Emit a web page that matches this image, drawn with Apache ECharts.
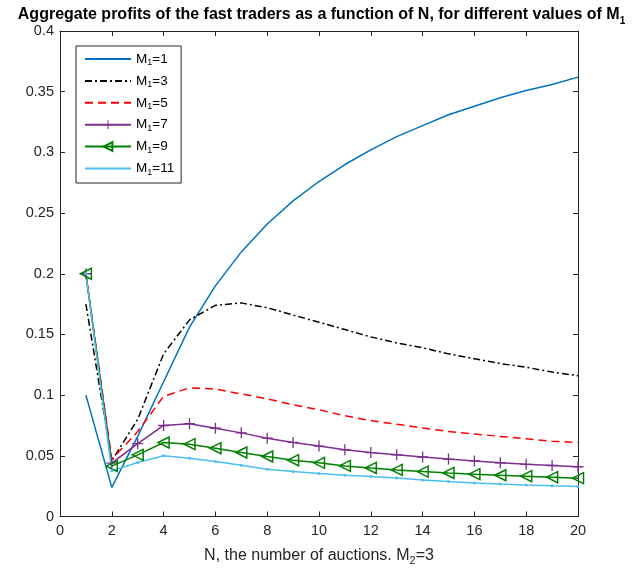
<!DOCTYPE html>
<html><head><meta charset="utf-8">
<script src="https://cdn.jsdelivr.net/npm/echarts@6/dist/echarts.min.js"></script>
<style>html,body{margin:0;padding:0;background:#fff}#c{width:643px;height:572px}</style>
</head><body><div id="c"></div>
<script>
var N = [1,2,3,4,5,6,7,8,9,10,11,12,13,14,15,16,17,18,19,20];
var m1_1  = [0.100,0.024,0.066,0.111,0.156,0.190,0.218,0.241,0.260,0.276,0.290,0.302,0.313,0.322,0.331,0.338,0.345,0.351,0.356,0.362];
var m1_3  = [0.175,0.046,0.080,0.134,0.162,0.174,0.176,0.172,0.166,0.160,0.154,0.148,0.143,0.139,0.134,0.130,0.126,0.123,0.119,0.116];
var m1_5  = [0.200,0.047,0.070,0.099,0.106,0.105,0.101,0.097,0.092,0.088,0.083,0.079,0.076,0.073,0.070,0.068,0.066,0.064,0.062,0.061];
var m1_7  = [0.200,0.044,0.060,0.075,0.0765,0.0727,0.0689,0.0645,0.061,0.058,0.055,0.0527,0.0508,0.049,0.0473,0.0458,0.0443,0.043,0.042,0.041];
var m1_9  = [0.200,0.0415,0.0508,0.061,0.0596,0.0563,0.0527,0.0494,0.0464,0.0442,0.0417,0.040,0.0384,0.037,0.0359,0.0349,0.034,0.0332,0.0324,0.0316];
var m1_11 = [0.200,0.0376,0.0445,0.050,0.048,0.0453,0.0423,0.039,0.037,0.0354,0.034,0.033,0.0318,0.030,0.0288,0.0277,0.0268,0.026,0.0253,0.0247];
var seriesNames = ['M1=1','M1=3','M1=5','M1=7','M1=9','M1=11'];

function pairs(arr){ return arr.map(function(v,i){ return [N[i], v]; }); }
var FONT = '"Liberation Sans", Arial, sans-serif';
var TXT = '#262626';
var subRich = {
  n: {fontFamily: FONT, fontSize: 13.5, color: '#000', lineHeight: 15, verticalAlign: 'middle'},
  s: {fontFamily: FONT, fontSize: 9, color: '#000', padding: [8,0,0,0], verticalAlign: 'middle'}
};
var plus = 'path://M4.4,0h1.2v4.4h4.4v1.2h-4.4v4.4h-1.2v-4.4h-4.4v-1.2h4.4z';
var triL = 'path://M0,5L10,0L10,10Z';

var chart = echarts.init(document.getElementById('c'), null, {renderer:'canvas'});
var axisCommon = {
  axisLine: {show: true, onZero: false, lineStyle: {color: TXT, width: 1}},
  axisTick: {show: true, inside: true, length: 5, lineStyle: {color: TXT}},
  splitLine: {show: false}
};
var hideSym = {opacity: 0};
chart.setOption({
  animation: false,
  backgroundColor: '#fff',
  title: {
    text: '{b|Aggregate profits of the fast traders as a function of N, for different values of M}{bs|1}',
    left: 'center', top: -1,
    textStyle: {rich: {
      b: {fontFamily: FONT, fontSize: 16, fontWeight: 'bold', color: '#000', lineHeight: 20, verticalAlign: 'middle'},
      bs: {fontFamily: FONT, fontSize: 10, fontWeight: 'bold', color: '#000', padding: [12,0,0,0], verticalAlign: 'middle'}
    }}
  },
  grid: {left: 60, right: 65, top: 31, bottom: 55.5, containLabel: false},
  legend: {
    orient: 'vertical', left: 76, top: 46,
    padding: [6, 7, 6, 8],
    itemWidth: 46, itemHeight: 11, itemGap: 6.4,
    borderColor: '#262626', borderWidth: 1, backgroundColor: '#fff',
    data: [
      {name: seriesNames[0], itemStyle: hideSym},
      {name: seriesNames[1], itemStyle: hideSym},
      {name: seriesNames[2], itemStyle: hideSym},
      {name: seriesNames[3]},
      {name: seriesNames[4]},
      {name: seriesNames[5], itemStyle: hideSym}
    ],
    formatter: function(name){ var p = name.split('='); return '{n|M}{s|1}{n|=' + p[1] + '}'; },
    textStyle: {rich: subRich}
  },
  xAxis: [
    Object.assign({type: 'value', min: 0, max: 20, interval: 2, position: 'bottom',
      name: '{n|N, the number of auctions. M}{s|2}{n|=3}', nameLocation: 'middle', nameGap: 28,
      nameTextStyle: {rich: {
        n: {fontFamily: FONT, fontSize: 16, color: TXT, lineHeight: 18, verticalAlign: 'middle'},
        s: {fontFamily: FONT, fontSize: 11, color: TXT, padding: [11,0,0,0], verticalAlign: 'middle'}
      }},
      axisLabel: {fontFamily: FONT, fontSize: 14.5, color: TXT, margin: 7}
    }, axisCommon),
    Object.assign({type: 'value', min: 0, max: 20, interval: 2, position: 'top',
      axisLabel: {show: false}}, axisCommon)
  ],
  yAxis: [
    Object.assign({type: 'value', min: 0, max: 0.4, interval: 0.05, position: 'left',
      axisLabel: {fontFamily: FONT, fontSize: 14.5, color: TXT, margin: 6,
        formatter: function(v){ return String(+v.toFixed(2)); }}
    }, axisCommon),
    Object.assign({type: 'value', min: 0, max: 0.4, interval: 0.05, position: 'right',
      axisLabel: {show: false}}, axisCommon)
  ],
  series: [
    {name: seriesNames[0], type: 'line', data: pairs(m1_1), showSymbol: false, symbol: 'none',
      lineStyle: {color: '#0072BD', width: 1.5}, itemStyle: {color: '#0072BD'}},
    {name: seriesNames[1], type: 'line', data: pairs(m1_3), showSymbol: false, symbol: 'none',
      lineStyle: {color: '#000', width: 1.5, type: [7,3,2,3]}, itemStyle: {color: '#000'}},
    {name: seriesNames[2], type: 'line', data: pairs(m1_5), showSymbol: false, symbol: 'none',
      lineStyle: {color: '#FF0000', width: 1.5, type: [8,5]}, itemStyle: {color: '#FF0000'}},
    {name: seriesNames[3], type: 'line', data: pairs(m1_7), symbol: plus, symbolSize: 11,
      lineStyle: {color: '#7E2F8E', width: 1.5}, itemStyle: {color: '#7E2F8E'}},
    {name: seriesNames[4], type: 'line', data: pairs(m1_9), symbol: triL, symbolSize: [11, 11],
      lineStyle: {color: '#008000', width: 1.5},
      itemStyle: {color: 'rgba(0,0,0,0)', borderColor: '#008000', borderWidth: 1.5}},
    {name: seriesNames[5], type: 'line', data: pairs(m1_11), symbol: 'circle', symbolSize: 3,
      lineStyle: {color: '#4DBEEE', width: 1.5}, itemStyle: {color: '#4DBEEE'}}
  ]
});
</script></body></html>
